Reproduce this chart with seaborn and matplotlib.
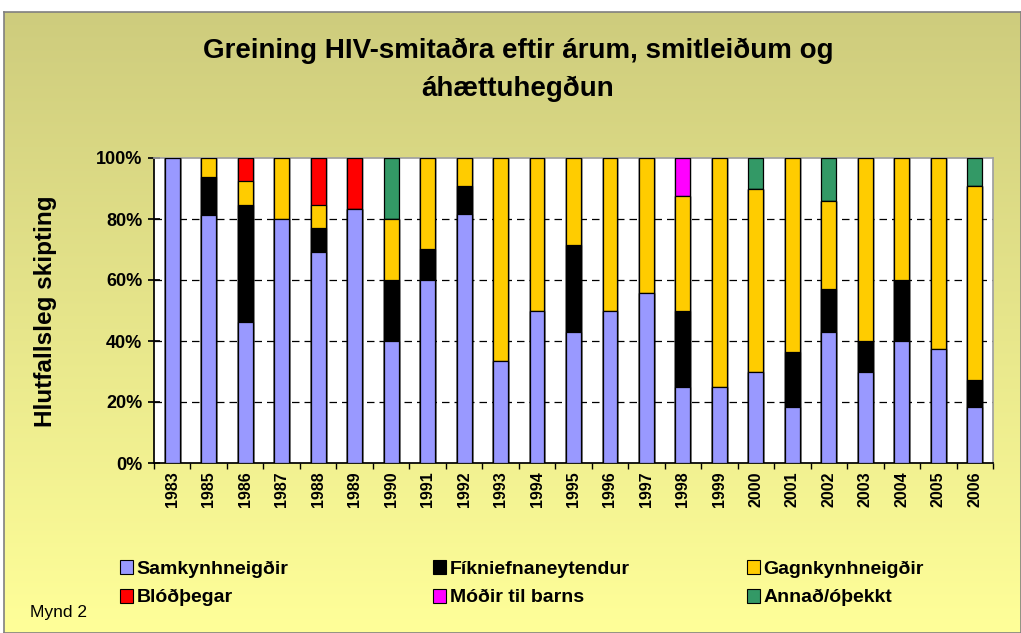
import numpy as np
import pandas as pd
import matplotlib
matplotlib.use("Agg")
import matplotlib.pyplot as plt
import seaborn as sns
from matplotlib.patches import Patch

sns.set_theme(style="white")
plt.rcParams['font.family'] = ['Liberation Sans', 'DejaVu Sans']
plt.rcParams['text.color'] = 'black'
plt.rcParams['axes.labelcolor'] = 'black'
plt.rcParams['xtick.color'] = 'black'
plt.rcParams['ytick.color'] = 'black'

years = ["1983", "1985", "1986", "1987", "1988", "1989", "1990", "1991", "1992", "1993",
         "1994", "1995", "1996", "1997", "1998", "1999", "2000", "2001", "2002", "2003",
         "2004", "2005", "2006"]
samkyn = [100, 81.25, 46.2, 80, 69.2, 83.3, 40, 60, 81.8, 33.3,
          50, 42.9, 50, 55.6, 25, 25, 30, 18.2, 42.9, 30,
          40, 37.5, 18.2]
fikni = [0, 12.5, 38.5, 0, 7.7, 0, 20, 10, 9.1, 0,
         0, 28.6, 0, 0, 25, 0, 0, 18.2, 14.3, 10,
         20, 0, 9.1]
gagn = [0, 6.25, 7.7, 20, 7.7, 0, 20, 30, 9.1, 66.7,
        50, 28.6, 50, 44.4, 37.5, 75, 60, 63.6, 28.6, 60,
        40, 62.5, 63.6]
blod = [0, 0, 7.7, 0, 15.4, 16.7, 0, 0, 0, 0,
        0, 0, 0, 0, 0, 0, 0, 0, 0, 0,
        0, 0, 0]
modir = [0, 0, 0, 0, 0, 0, 0, 0, 0, 0,
         0, 0, 0, 0, 12.5, 0, 0, 0, 0, 0,
         0, 0, 0]
annad = [0, 0, 0, 0, 0, 0, 20, 0, 0, 0,
         0, 0, 0, 0, 0, 0, 10, 0, 14.3, 0,
         0, 0, 9.1]

series_names = ["Samkynhneigðir", "Fíkniefnaneytendur", "Gagnkynhneigðir",
                "Blóðþegar", "Móðir til barns", "Annað/óþekkt"]
colors = ["#9999FF", "#000000", "#FFCC00", "#FF0000", "#FF00FF", "#339966"]
series = [samkyn, fikni, gagn, blod, modir, annad]

W, H = 1021, 633
fig = plt.figure(figsize=(W / 100, H / 100), dpi=100, facecolor="white")

# background gradient panel
bg = fig.add_axes([4 / W, 0, (W - 4) / W, (H - 12) / H])
grad = np.linspace(0, 1, 256).reshape(-1, 1)
top = np.array([0.808, 0.800, 0.490])
bot = np.array([1.0, 1.0, 0.60])
img = top[None, None, :] * (1 - grad[:, :, None]) + bot[None, None, :] * grad[:, :, None]
bg.imshow(img, aspect="auto", extent=[0, 1, 0, 1])
bg.set_xticks([]); bg.set_yticks([])
for s in bg.spines.values():
    s.set_color("#808080"); s.set_linewidth(1.2)

ax = fig.add_axes([154 / W, 1 - 463 / H, (993 - 154) / W, (463 - 158) / H])
ax.set_facecolor("white")

cum = np.zeros(len(years))
cums = []
for s in series:
    cum = cum + np.array(s)
    cums.append(cum.copy())
for i in range(len(series) - 1, -1, -1):
    d = pd.DataFrame({"year": years, "value": cums[i]})
    sns.barplot(data=d, x="year", y="value", order=years, color=colors[i],
                width=0.41, edgecolor="black", linewidth=0.9, saturation=1,
                ax=ax, zorder=3)

ax.set_ylim(0, 100)
ax.set_xlim(-0.5, len(years) - 0.5)
ax.set_yticks([0, 20, 40, 60, 80, 100])
ax.set_yticklabels([f"{v}%" for v in [0, 20, 40, 60, 80, 100]], fontsize=13, fontweight="bold")
ax.set_xticks(range(len(years)))
ax.set_xticklabels(years, rotation=90, fontsize=11.5, fontweight="bold")
ax.tick_params(axis="x", which="major", length=0, pad=6)
ax.set_xticks(np.arange(-0.5, len(years), 1), minor=True)
ax.tick_params(axis="x", which="minor", length=4, direction="out", color="black", bottom=True)
ax.tick_params(axis="y", which="major", length=9, direction="inout", color="black", left=True, pad=4)
for y in [20, 40, 60, 80]:
    ax.axhline(y, color="black", linewidth=0.9, linestyle=(0, (6, 4)), zorder=1)
ax.set_xlabel("")
ax.set_ylabel("")
ax.spines["left"].set_color("black")
ax.spines["bottom"].set_color("black")
ax.spines["top"].set_color("#a0a0a0")
ax.spines["right"].set_color("#a0a0a0")
ax.grid(False)

fig.text(46 / W, 1 - 311 / H, "Hlutfallsleg skipting", rotation=90, ha="center", va="center",
         fontsize=17.5, fontweight="bold")

fig.text(518 / W, 1 - 51 / H, "Greining HIV-smitaðra eftir árum, smitleiðum og",
         ha="center", va="center", fontsize=20, fontweight="bold")
fig.text(518 / W, 1 - 89 / H, "áhættuhegðun",
         ha="center", va="center", fontsize=20, fontweight="bold")

# legend: three columns, two rows
col_x = [120, 433, 747]
cols = [[0, 3], [1, 4], [2, 5]]
for cx, idxs in zip(col_x, cols):
    handles = [Patch(facecolor=colors[k], edgecolor="black", linewidth=0.8) for k in idxs]
    labels = [series_names[k] for k in idxs]
    fig.legend(handles, labels, loc="upper left", bbox_to_anchor=(cx / W, 1 - 560 / H),
               frameon=False, prop={"weight": "bold", "size": 14},
               handlelength=0.66, handleheight=0.75, handletextpad=0.2,
               labelspacing=0.55, borderpad=0, borderaxespad=0)

fig.text(30 / W, 1 - 612 / H, "Mynd 2", ha="left", va="center", fontsize=12.5)

fig.savefig("out.png", dpi=100, facecolor=fig.get_facecolor())
